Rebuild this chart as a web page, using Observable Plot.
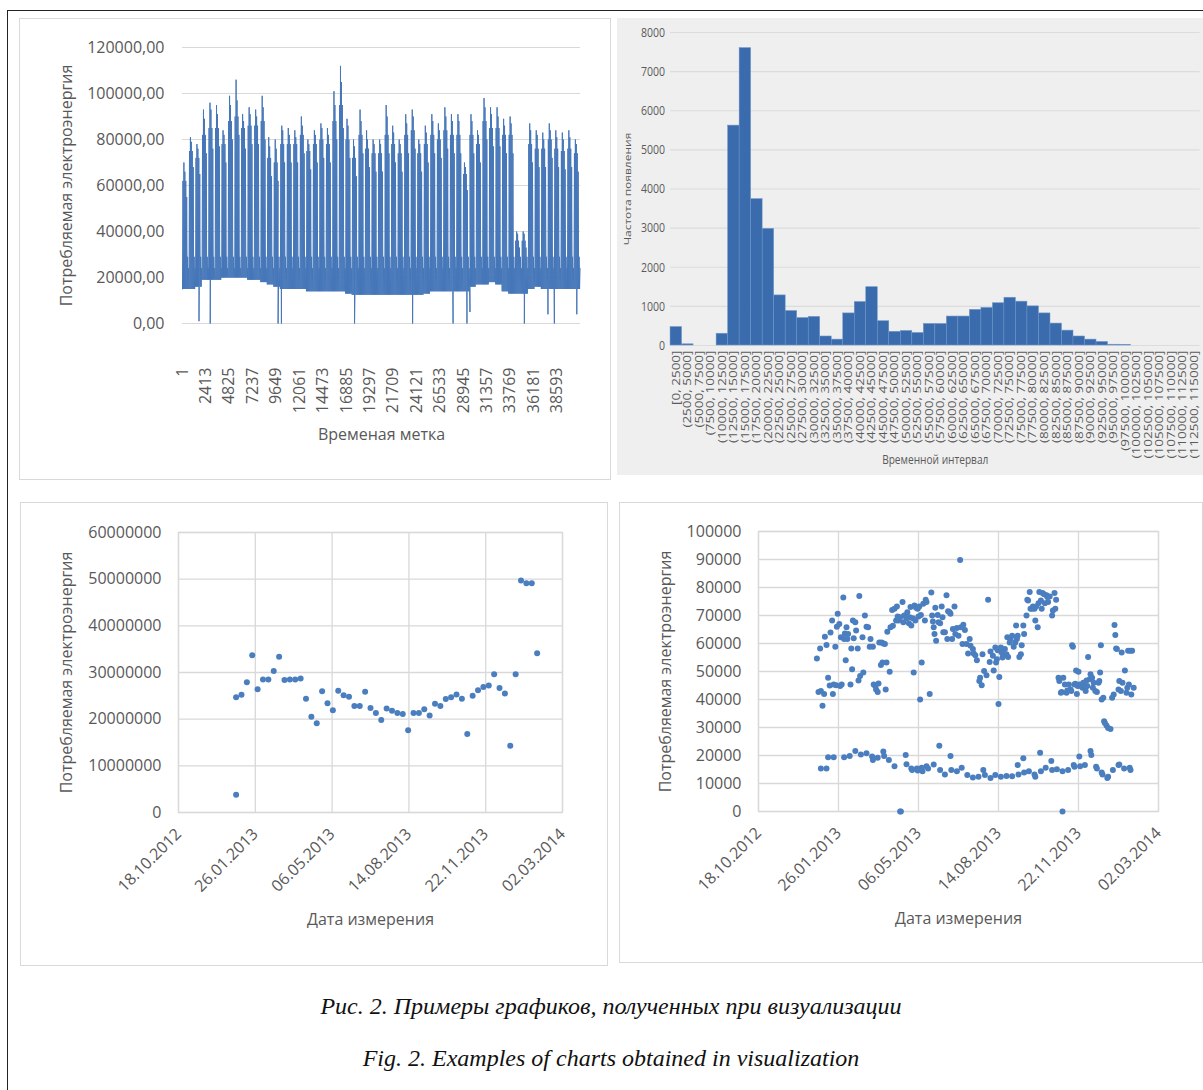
<!DOCTYPE html>
<html><head><meta charset="utf-8">
<script src="https://cdn.jsdelivr.net/npm/d3@7"></script>
<script src="https://cdn.jsdelivr.net/npm/@observablehq/plot@0.6"></script>
<style>
html,body{margin:0;padding:0;background:#fff;}
#page{position:relative;width:1203px;height:1090px;overflow:hidden;background:#fff;}
.frame{position:absolute;left:7px;top:10px;width:1400px;height:1400px;border-left:1px solid #222;border-top:1px solid #222;}
.box{position:absolute;box-sizing:border-box;border:1px solid #d9d9d9;}
.holder{position:absolute;}
.cap{position:absolute;left:0;width:1222px;text-align:center;font-family:"Liberation Serif","Times New Roman",serif;font-style:italic;font-size:24px;color:#111;line-height:1;}
</style></head>
<body><div id="page">
<div class="frame"></div>
<div class="box" style="left:19px;top:18px;width:592px;height:462px;"></div>
<div class="box" style="left:20px;top:502px;width:588px;height:464px;"></div>
<div class="box" style="left:619px;top:502px;width:584px;height:461px;"></div>
<div id="p1" class="holder" style="left:19px;top:18px;width:592px;height:462px;"></div>
<div class="holder" style="left:617px;top:18px;width:586px;height:457px;background:#efefef;overflow:hidden;">
  <div id="p2" style="position:absolute;left:0;top:0;width:751px;height:457px;transform:scaleX(0.78);transform-origin:0 0;"></div>
</div>
<div id="p3" class="holder" style="left:20px;top:502px;width:588px;height:464px;"></div>
<div id="p4" class="holder" style="left:619px;top:502px;width:584px;height:461px;"></div>
<div class="cap" style="top:994px;">Рис. 2. Примеры графиков, полученных при визуализации</div>
<div class="cap" style="top:1046px;">Fig. 2. Examples of charts obtained in visualization</div>
</div>
<script>
// ---------- Panel 1: time series (weekly envelope) ----------
const p1TickLabels = [1, 2413, 4825, 7237, 9649, 12061, 14473, 16885, 19297, 21709, 24121, 26533, 28945, 31357, 33769, 36181, 38593];
const p1YTicks = [0, 20000, 40000, 60000, 80000, 100000, 120000];
// weekday daily maxima per week: highest spike, second spike, typical, low working day
const weekPeaks = [70000, 81000, 78000, 93000, 96000, 95000, 84000, 99000, 106000, 91000,
  94000, 93000, 99000, 81000, 80000, 86000, 85000, 84000, 90000, 80000,
  84000, 87000, 85000, 101000, 112000, 89000, 80000, 93000, 84000, 80000,
  80000, 95000, 86000, 80000, 91000, 93000, 80000, 86000, 91000, 87000,
  94000, 91000, 91000, 70000, 91000, 84000, 98000, 94000, 94000, 89000,
  90000, 40000, 40000, 87000, 84000, 83000, 87000, 84000, 83000, 84000, 80000];
const weekSecond = [66000, 79000, 76000, 89000, 93000, 91000, 82000, 95000, 97000, 88000,
  91000, 90000, 94000, 77000, 76000, 84000, 82000, 81000, 86000, 78000,
  82000, 85000, 82000, 95000, 105000, 86000, 77000, 88000, 80000, 78000,
  78000, 90000, 83000, 78000, 87000, 90000, 78000, 83000, 88000, 84000,
  90000, 88000, 88000, 68000, 88000, 82000, 94000, 91000, 90000, 86000,
  87000, 39000, 39000, 84000, 82000, 80000, 84000, 81000, 80000, 81000, 78000];
const weekTypical = [62000, 75000, 72000, 82000, 85000, 85000, 78000, 88000, 90000, 85000,
  86000, 86000, 88000, 72000, 70000, 78000, 78000, 78000, 82000, 75000,
  78000, 80000, 78000, 88000, 95000, 80000, 72000, 82000, 76000, 74000,
  74000, 82000, 78000, 74000, 82000, 84000, 74000, 78000, 82000, 80000,
  84000, 82000, 82000, 65000, 82000, 78000, 88000, 85000, 85000, 82000,
  82000, 36000, 36000, 78000, 76000, 76000, 80000, 76000, 75000, 76000, 74000];
const weekLowDay = [55000, 68000, 65000, 74000, 76000, 77000, 70000, 80000, 82000, 76000,
  78000, 78000, 80000, 64000, 62000, 70000, 70000, 70000, 74000, 67000,
  70000, 72000, 70000, 80000, 85000, 72000, 64000, 74000, 68000, 66000,
  66000, 74000, 70000, 66000, 74000, 76000, 66000, 70000, 74000, 72000,
  76000, 74000, 74000, 58000, 74000, 70000, 80000, 77000, 77000, 74000,
  74000, 33000, 33000, 70000, 68000, 68000, 72000, 68000, 67000, 68000, 66000];
const weekTroughs = [15000, 15000, 16000, 19000, 19000, 19000, 20000, 20000, 20000, 20000,
  19000, 19000, 18000, 17000, 16000, 15000, 15000, 15000, 15000, 14000,
  14000, 14000, 14000, 14000, 14000, 13000, 12500, 12500, 12500, 12500,
  12500, 12500, 12500, 12500, 12500, 12500, 12500, 13000, 14000, 14000,
  14000, 14000, 14000, 14000, 16000, 17000, 17000, 18000, 17000, 14000,
  13000, 13000, 13000, 15000, 16000, 15000, 15000, 15000, 15000, 15000, 15000];
const weekendPeaks = [29000, 24000];
const dips = [[1700, 1000], [2857, 0], [9845, 0], [10190, 0], [17720, 0], [23700, 0], [27870, 0],
  [29300, 0], [29610, 5000], [35210, 0], [37640, 4000], [38300, 0], [40610, 4000]];

// ---------- Panel 2: histogram ----------
const binLabels = ["[0, 2500]", "(2500, 5000]", "(5000, 7500]", "(7500, 10000]", "(10000, 12500]",
  "(12500, 15000]", "(15000, 17500]", "(17500, 20000]", "(20000, 22500]", "(22500, 25000]",
  "(25000, 27500]", "(27500, 30000]", "(30000, 32500]", "(32500, 35000]", "(35000, 37500]",
  "(37500, 40000]", "(40000, 42500]", "(42500, 45000]", "(45000, 47500]", "(47500, 50000]",
  "(50000, 52500]", "(52500, 55000]", "(55000, 57500]", "(57500, 60000]", "(60000, 62500]",
  "(62500, 65000]", "(65000, 67500]", "(67500, 70000]", "(70000, 72500]", "(72500, 75000]",
  "(75000, 77500]", "(77500, 80000]", "(80000, 82500]", "(82500, 85000]", "(85000, 87500]",
  "(87500, 90000]", "(90000, 92500]", "(92500, 95000]", "(95000, 97500]", "(97500, 100000]",
  "(100000, 102500]", "(102500, 105000]", "(105000, 107500]", "(107500, 110000]", "(110000, 112500]",
  "(112500, 115000]"];
const binCounts = [470, 30, 0, 0, 300, 5620, 7600, 3740, 2980, 1280,
  880, 700, 730, 230, 150, 820, 1110, 1490, 620, 350,
  370, 320, 550, 550, 740, 740, 910, 960, 1080, 1220,
  1120, 1000, 820, 560, 380, 230, 150, 90, 20, 15,
  0, 0, 0, 0, 0, 0];
const p2YTicks = [0, 1000, 2000, 3000, 4000, 5000, 6000, 7000, 8000];

// ---------- Panels 3 & 4: shared date ticks ----------
const dateTickLabels = ["18.10.2012", "26.01.2013", "06.05.2013", "14.08.2013", "22.11.2013", "02.03.2014"];

// Panel 3: weekly consumption
const weeklyPoints = [
  ["2013-01-01", 24700000], ["2013-01-01", 3800000], ["2013-01-08", 25250000], ["2013-01-15", 27900000],
  ["2013-01-22", 33700000], ["2013-01-29", 26400000], ["2013-02-05", 28500000], ["2013-02-12", 28500000],
  ["2013-02-19", 30300000], ["2013-02-26", 33400000], ["2013-03-05", 28400000], ["2013-03-12", 28500000],
  ["2013-03-19", 28500000], ["2013-03-26", 28700000], ["2013-04-02", 24400000], ["2013-04-09", 20500000],
  ["2013-04-16", 19100000], ["2013-04-23", 26000000], ["2013-04-30", 23400000], ["2013-05-07", 21900000],
  ["2013-05-14", 26100000], ["2013-05-21", 25100000], ["2013-05-28", 24800000], ["2013-06-04", 22800000],
  ["2013-06-11", 22800000], ["2013-06-18", 25900000], ["2013-06-25", 22400000], ["2013-07-02", 21300000],
  ["2013-07-09", 19800000], ["2013-07-16", 22300000], ["2013-07-23", 21800000], ["2013-07-30", 21300000],
  ["2013-08-06", 21100000], ["2013-08-13", 17600000], ["2013-08-20", 21300000], ["2013-08-27", 21300000],
  ["2013-09-03", 22100000], ["2013-09-10", 20800000], ["2013-09-17", 23300000], ["2013-09-24", 22800000],
  ["2013-10-01", 24300000], ["2013-10-08", 24700000], ["2013-10-15", 25300000], ["2013-10-22", 24400000],
  ["2013-10-29", 16800000], ["2013-11-05", 25000000], ["2013-11-12", 26200000], ["2013-11-19", 26900000],
  ["2013-11-26", 27200000], ["2013-12-03", 29600000], ["2013-12-10", 26700000], ["2013-12-17", 25500000],
  ["2013-12-24", 14300000], ["2013-12-31", 29600000], ["2014-01-07", 49700000], ["2014-01-14", 49100000],
  ["2014-01-21", 49100000], ["2014-01-28", 34100000]];
const p3YTicks = [0, 10000000, 20000000, 30000000, 40000000, 50000000, 60000000];

// Panel 4: daily consumption (working days band, weekend band, zeros)
const dailyPoints = [
  ["2012-12-30",54600],["2013-01-03",58200],["2013-01-06",37800],["2013-01-04",43000],["2013-01-01",42700],
  ["2013-01-08",42000],["2013-01-09",62400],["2013-01-11",59500],["2013-01-13",47800],["2013-01-15",45000],
  ["2013-01-16",63900],["2013-01-18",68200],["2013-01-19",42000],["2013-01-20",45400],["2013-01-22",58800],
  ["2013-01-23",45100],["2013-01-25",70600],["2013-01-24",66000],["2013-01-27",67000],["2013-01-28",44800],
  ["2013-01-30",45400],["2013-01-29",62200],["2013-02-01",76400],["2013-02-02",61600],["2013-02-03",63600],
  ["2013-02-05",65800],["2013-02-04",54000],["2013-02-06",61600],["2013-02-07",63400],["2013-02-10",45400],
  ["2013-02-11",58200],["2013-02-12",50800],["2013-02-13",68200],["2013-02-14",61900],["2013-02-16",67600],
  ["2013-02-17",64600],["2013-02-19",58200],["2013-02-20",46800],["2013-02-21",77000],["2013-02-22",48400],
  ["2013-02-25",62200],["2013-02-26",49600],["2013-02-28",70000],["2013-03-02",66000],["2013-03-04",65800],
  ["2013-03-06",58800],["2013-03-07",61600],["2013-03-10",58800],["2013-03-11",45400],["2013-03-13",44800],
  ["2013-03-14",43600],["2013-03-16",42700],["2013-03-17",45700],["2013-03-18",60400],["2013-03-20",52300],
  ["2013-03-21",60400],["2013-03-22",53200],["2013-03-23",60000],["2013-03-25",59800],["2013-03-26",43600],
  ["2013-03-27",53200],["2013-03-28",64200],["2013-03-31",49900],["2013-04-01",65800],["2013-04-03",72000],
  ["2013-04-04",66300],["2013-04-06",72400],["2013-04-08",68200],["2013-04-09",73200],["2013-04-10",69600],
  ["2013-04-11",68200],["2013-04-13",69400],["2013-04-16",74800],["2013-04-17",67600],["2013-04-18",70000],
  ["2013-04-21",69000],["2013-04-22",71200],["2013-04-24",67200],["2013-04-25",69400],["2013-04-26",73000],
  ["2013-04-27",66400],["2013-04-29",69000],["2013-04-30",49600],["2013-05-01",73600],["2013-05-02",68200],
  ["2013-05-03",72800],["2013-05-05",72400],["2013-05-06",69600],["2013-05-07",73200],["2013-05-08",40000],
  ["2013-05-10",53200],["2013-05-09",70200],["2013-05-12",74200],["2013-05-14",68200],["2013-05-16",74800],
  ["2013-05-15",75600],["2013-05-20",42000],["2013-05-22",78200],["2013-05-23",70000],["2013-05-24",67900],
  ["2013-05-25",65800],["2013-05-26",63400],["2013-05-27",72800],["2013-05-28",61000],["2013-05-30",70200],
  ["2013-05-31",67600],["2013-06-02",67200],["2013-06-04",73200],["2013-06-05",69400],["2013-06-06",64000],
  ["2013-06-08",64000],["2013-06-10",77200],["2013-06-12",71500],["2013-06-11",61600],["2013-06-14",71200],
  ["2013-06-15",70600],["2013-06-17",61600],["2013-06-18",65200],["2013-06-20",73200],["2013-06-21",63400],
  ["2013-06-23",65500],["2013-06-25",62800],["2013-06-27",89800],["2013-06-28",65800],["2013-06-30",59800],
  ["2013-07-01",66700],["2013-07-03",64800],["2013-07-05",59800],["2013-07-07",56400],["2013-07-09",61600],
  ["2013-07-10",59200],["2013-07-13",58000],["2013-07-14",56400],["2013-07-16",55800],["2013-07-18",54000],
  ["2013-07-21",46600],["2013-07-22",47800],["2013-07-24",45100],["2013-07-25",56200],["2013-07-27",50200],
  ["2013-07-30",48700],["2013-08-01",75600],["2013-08-03",53400],["2013-08-04",57100],["2013-08-07",55600],
  ["2013-08-08",50400],["2013-08-10",58600],["2013-08-11",53200],["2013-08-12",54400],["2013-08-13",57600],
  ["2013-08-14",38400],["2013-08-15",48000],["2013-08-17",58600],["2013-08-18",56800],["2013-08-19",55000],
  ["2013-08-20",55600],["2013-08-22",58000],["2013-08-24",56200],["2013-08-25",62200],["2013-08-26",55200],
  ["2013-08-28",60400],["2013-08-29",61600],["2013-08-31",62800],["2013-09-02",58800],["2013-09-04",60400],
  ["2013-09-05",66400],["2013-09-06",61600],["2013-09-07",62800],["2013-09-09",55200],["2013-09-11",56200],
  ["2013-09-12",59400],["2013-09-14",66400],["2013-09-15",63400],["2013-09-18",70000],["2013-09-19",75600],
  ["2013-09-20",75400],["2013-09-22",78400],["2013-09-23",72400],["2013-09-25",72400],["2013-09-26",73200],
  ["2013-09-28",72400],["2013-09-29",68200],["2013-09-30",73200],["2013-10-02",65800],["2013-10-03",74400],
  ["2013-10-04",78400],["2013-10-06",75400],["2013-10-07",72400],["2013-10-08",78000],["2013-10-10",77600],
  ["2013-10-11",74400],["2013-10-13",77200],["2013-10-14",76600],["2013-10-15",74800],["2013-10-17",76800],
  ["2013-10-20",70000],["2013-10-21",71800],["2013-10-23",78000],["2013-10-24",72400],["2013-10-25",75600],
  ["2013-10-28",47800],["2013-10-29",46600],["2013-10-31",42400],["2013-11-01",42700],["2013-11-03",47800],
  ["2013-11-05",45400],["2013-11-07",42400],["2013-11-08",43200],["2013-11-10",45400],["2013-11-12",43600],
  ["2013-11-13",43000],["2013-11-14",59400],["2013-11-15",58800],["2013-11-17",45400],["2013-11-18",45600],
  ["2013-11-19",50400],["2013-11-20",42000],["2013-11-21",44800],["2013-11-22",49900],["2013-11-23",45400],
  ["2013-11-25",44800],["2013-11-26",45400],["2013-11-27",44200],["2013-11-28",46000],["2013-11-30",44200],
  ["2013-12-01",43000],["2013-12-02",46800],["2013-12-03",44800],["2013-12-04",55200],["2013-12-06",47200],
  ["2013-12-07",49000],["2013-12-09",47800],["2013-12-10",44200],["2013-12-11",46000],["2013-12-13",43000],
  ["2013-12-15",42700],["2013-12-17",46000],["2013-12-18",46600],["2013-12-19",49600],["2013-12-20",59400],
  ["2013-12-21",40000],["2013-12-23",40600],["2013-12-24",32200],["2013-12-25",31600],["2013-12-27",30700],
  ["2013-12-29",29800],["2014-01-01",29500],["2014-01-03",40600],["2014-01-05",41800],["2014-01-06",66600],
  ["2014-01-07",63000],["2014-01-08",58200],["2014-01-09",58000],["2014-01-11",43600],["2014-01-12",46600],
  ["2014-01-14",43000],["2014-01-15",56800],["2014-01-16",46000],["2014-01-19",50400],["2014-01-21",42400],
  ["2014-01-22",44200],["2014-01-23",57400],["2014-01-24",45400],["2014-01-26",57400],["2014-01-28",57400],
  ["2014-01-27",41800],["2014-01-30",44200],
  ["2013-01-04",15400],["2013-01-11",15400],["2013-01-13",19400],["2013-01-20",19400],["2013-02-02",19400],
  ["2013-02-09",19800],["2013-02-16",21600],["2013-02-23",20400],["2013-03-02",20800],["2013-03-09",19600],
  ["2013-03-10",18400],["2013-03-16",19200],["2013-03-23",21400],["2013-03-24",19800],["2013-03-30",18400],
  ["2013-04-06",16200],["2013-04-20",20200],["2013-04-21",16900],["2013-04-27",15400],["2013-04-28",14800],
  ["2013-05-04",15400],["2013-05-05",14600],["2013-05-10",15600],["2013-05-11",14400],["2013-05-16",16200],
  ["2013-05-18",15400],["2013-05-25",16800],["2013-06-01",23500],["2013-06-02",14800],["2013-06-08",13200],
  ["2013-06-15",19800],["2013-06-16",14800],["2013-06-23",14400],["2013-06-29",15600],["2013-07-06",13000],
  ["2013-07-13",12100],["2013-07-20",12400],["2013-07-26",14800],["2013-07-28",13000],["2013-08-04",12000],
  ["2013-08-10",13000],["2013-08-17",12400],["2013-08-24",12700],["2013-08-31",12600],["2013-09-07",16600],
  ["2013-09-08",13200],["2013-09-14",19000],["2013-09-15",13900],["2013-09-21",14400],["2013-09-28",13200],
  ["2013-09-29",12400],["2013-10-05",21000],["2013-10-06",14400],["2013-10-12",15600],["2013-10-19",18000],
  ["2013-10-20",14800],["2013-10-26",15100],["2013-11-02",14400],["2013-11-09",14800],["2013-11-16",16600],
  ["2013-11-17",16000],["2013-11-23",19600],["2013-11-24",16200],["2013-11-30",16600],["2013-12-07",21600],
  ["2013-12-08",20200],["2013-12-14",16000],["2013-12-15",15400],["2013-12-21",13900],["2013-12-22",13200],
  ["2013-12-28",12000],["2013-12-29",12400],["2014-01-04",14800],["2014-01-11",16600],["2014-01-12",16800],
  ["2014-01-18",15400],["2014-01-25",15600],["2014-01-26",14800],
  ["2013-04-13",0],["2013-04-14",0],["2013-11-02",0]];
const p4YTicks = [0, 10000, 20000, 30000, 40000, 50000, 60000, 70000, 80000, 90000, 100000];

const yLabelText = "Потребляемая электроэнергия";
const p1XLabel = "Временая метка";
const p2YLabel = "Частота появления";
const p2XLabel = "Временной интервал";
const dateXLabel = "Дата измерения";

// ---------- styling ----------
const FONT = "'Open Sans', 'Noto Sans', sans-serif";
const TEXT = "#595959";
const GRID = "#d9d9d9";
const BLUE = "#4a7ebf";
const baseStyle = {fontFamily: FONT, fontSize: "16px", color: TEXT, background: "transparent", maxWidth: "none"};

// ---------- Panel 1 ----------
const series1 = [];
weekPeaks.forEach((mx, w) => {
  const dayPeaks = [weekTypical[w], mx, weekSecond[w], weekTypical[w], weekLowDay[w], weekendPeaks[0], weekendPeaks[1]];
  dayPeaks.forEach((peak, d) => {
    const t0 = 1 + (w * 7 + d) * 96;
    series1.push({t: t0, v: weekTroughs[w]});
    series1.push({t: t0 + 48, v: peak});
  });
});
dips.forEach(([t, v]) => series1.push({t, v}));
series1.sort((a, b) => a.t - b.t);

const p1 = Plot.plot({
  width: 592, height: 462,
  marginLeft: 163, marginRight: 31, marginTop: 29, marginBottom: 157,
  style: baseStyle,
  x: {domain: [1, 40992]},
  y: {domain: [0, 120000]},
  marks: [
    Plot.gridY(p1YTicks, {stroke: GRID, strokeOpacity: 1, strokeWidth: 1}),
    Plot.line(series1, {x: "t", y: "v", stroke: "#4677b9", strokeWidth: 1}),
    Plot.axisY(p1YTicks, {tickSize: 0, tickPadding: 18, tickFormat: d => d.toFixed(2).replace(".", ","), label: null}),
    Plot.axisX(p1TickLabels, {tickSize: 0, tickPadding: 44, tickRotate: -90, tickFormat: d => String(d), label: null}),
    Plot.text([yLabelText], {frameAnchor: "left", textAnchor: "middle", rotate: -90, dx: -116, fontSize: 16, fill: TEXT}),
    Plot.text([p1XLabel], {frameAnchor: "bottom", textAnchor: "middle", dy: 116, fontSize: 16, fill: TEXT})
  ]
});
document.getElementById("p1").appendChild(p1);

// ---------- Panel 2 (drawn wide, squeezed horizontally like the reference) ----------
const hist = binLabels.map((b, i) => ({bin: b, count: binCounts[i]}));
const p2 = Plot.plot({
  width: 751, height: 457,
  marginLeft: 68, marginRight: 4, marginTop: 14, marginBottom: 130,
  style: {...baseStyle, fontSize: "13.5px", color: "#5a5a5a"},
  x: {domain: binLabels, type: "band", padding: 0},
  y: {domain: [0, 8000]},
  marks: [
    Plot.gridY(p2YTicks, {stroke: "#dcdcdc", strokeOpacity: 1, strokeWidth: 1.2}),
    Plot.barY(hist, {x: "bin", y: "count", fill: "#3a6cad", stroke: "#7096c8", strokeWidth: 0.6, inset: 0}),
    Plot.axisY(p2YTicks, {tickSize: 0, tickPadding: 7, fontSize: 13.5, tickFormat: d => String(d), label: null}),
    Plot.axisX({tickSize: 0, tickPadding: 5, tickRotate: -90, fontSize: 13.5, label: null}),
    Plot.text([p2YLabel], {frameAnchor: "left", textAnchor: "middle", rotate: -90, dx: -54, fontSize: 12, fill: "#5a5a5a"}),
    Plot.text([p2XLabel], {frameAnchor: "bottom", textAnchor: "middle", dy: 118, fontSize: 13, fill: "#5a5a5a"})
  ]
});
document.getElementById("p2").appendChild(p2);

// ---------- Panels 3 & 4 ----------
const parseTick = d3.utcParse("%d.%m.%Y");
const parseISO = d3.utcParse("%Y-%m-%d");
const dateTicks = dateTickLabels.map(parseTick);
const fmtDate = d3.utcFormat("%d.%m.%Y");

function scatterPanel({data, yTicks, yMax, width, height, ml, mr, mt, mb, labelDx}) {
  const pts = data.map(([d, v]) => ({date: parseISO(d), value: v}));
  return Plot.plot({
    width, height, marginLeft: ml, marginRight: mr, marginTop: mt, marginBottom: mb,
    style: baseStyle,
    x: {type: "utc", domain: [dateTicks[0], dateTicks[dateTicks.length - 1]]},
    y: {domain: [0, yMax]},
    marks: [
      Plot.gridY(yTicks, {stroke: GRID, strokeOpacity: 1, strokeWidth: 1.3}),
      Plot.gridX(dateTicks, {stroke: GRID, strokeOpacity: 1, strokeWidth: 1.3}),
      Plot.frame({stroke: GRID, strokeWidth: 1.3}),
      Plot.dot(pts, {x: "date", y: "value", r: 3, fill: BLUE, stroke: "none"}),
      Plot.axisY(yTicks, {tickSize: 0, tickPadding: 17, tickFormat: d => String(d), label: null}),
      Plot.axisX(dateTicks, {tickSize: 0, tickPadding: 19, tickRotate: -45, tickFormat: fmtDate, label: null}),
      Plot.text([yLabelText], {frameAnchor: "left", textAnchor: "middle", rotate: -90, dx: labelDx, fontSize: 16, fill: TEXT}),
      Plot.text([dateXLabel], {frameAnchor: "bottom", textAnchor: "middle", dy: 112, fontSize: 16, fill: TEXT})
    ]
  });
}

document.getElementById("p3").appendChild(scatterPanel({
  data: weeklyPoints, yTicks: p3YTicks, yMax: 60000000,
  width: 588, height: 464, ml: 158, mr: 46, mt: 30, mb: 154, labelDx: -112
}));
document.getElementById("p4").appendChild(scatterPanel({
  data: dailyPoints, yTicks: p4YTicks, yMax: 100000,
  width: 584, height: 461, ml: 139, mr: 45, mt: 29, mb: 152, labelDx: -93
}));
</script>
</body></html>
